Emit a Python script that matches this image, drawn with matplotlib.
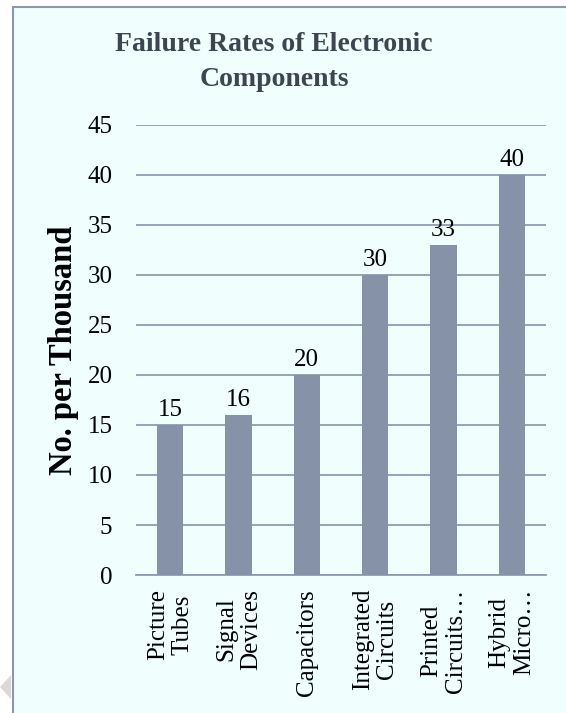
import numpy as np
import matplotlib
matplotlib.use("Agg")
import matplotlib.pyplot as plt
from matplotlib.patches import Rectangle, Polygon

# data
components = ["Picture\nTubes", "Signal\nDevices", "Capacitors",
              "Integrated\nCircuits", "Printed\nCircuits…", "Hybrid\nMicro…"]
rates = [15, 16, 20, 30, 33, 40]
yticks = [0, 5, 10, 15, 20, 25, 30, 35, 40, 45]

W, H = 566, 713
plt.rcParams['font.family'] = ['Liberation Serif', 'DejaVu Serif']

fig = plt.figure(figsize=(W / 100, H / 100), dpi=100)
fig.patch.set_facecolor("white")

# chart area background + frame
bg = Rectangle((12.5 / W, -0.01), 1.0, 1 - 6.5 / H + 0.01, transform=fig.transFigure,
               facecolor="#f0fefe", edgecolor="#8a97ad", linewidth=1.5, zorder=-2)
fig.patches.append(bg)
tri = Polygon([(11 / W, 1 - 675 / H), (11 / W, 1 - 699 / H), (0, 1 - 687 / H)],
              closed=True, transform=fig.transFigure, facecolor="#d9d9d9",
              edgecolor="none", zorder=-2)
fig.patches.append(tri)

ax = fig.add_axes([136 / W, 1 - 575 / H, (546 - 136) / W, (575 - 125) / H])
ax.set_zorder(2)
ax.set_facecolor("none")

x = np.arange(len(components))
bar_color = "#8592a7"
ax.bar(x, rates, width=0.39, color=bar_color, zorder=3)
for xi, v in zip(x, rates):
    ax.text(xi, v + 0.4, str(v), ha="center", va="bottom", fontsize=18, color="black")

ax.set_xlim(-0.5, len(components) - 0.5)
ax.set_ylim(0, 45)
ax.set_yticks(yticks)
ax.yaxis.grid(True, color="#8e9bb2", linewidth=1.3)
ax.set_axisbelow(True)
for s in ["top", "right", "left"]:
    ax.spines[s].set_visible(False)
ax.spines["bottom"].set_color("#8e9bb2")
ax.spines["bottom"].set_linewidth(1.3)
ax.tick_params(axis="both", length=0, labelsize=18, colors="black")
ax.tick_params(axis="y", pad=17)
ax.set_xticks(x)
ax.set_xticklabels(components, rotation=90, ha="center", va="top",
                   multialignment="center", fontsize=18, linespacing=1.15)
ax.tick_params(axis="x", pad=10)

ax.set_ylabel("No. per Thousand", fontsize=23.5, fontweight="bold", labelpad=6)

fig.text(274 / W, 1 - 62 / H, "Failure Rates of Electronic\nComponents",
         ha="center", va="center", fontsize=20, fontweight="bold",
         color="#3d4650", linespacing=1.55)

fig.savefig("out.png", dpi=100)
